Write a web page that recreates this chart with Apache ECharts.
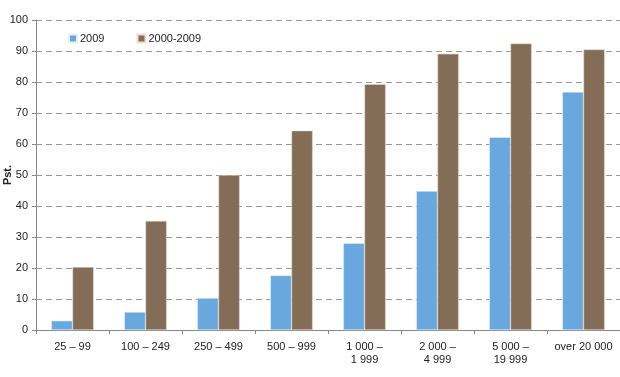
<!DOCTYPE html>
<html>
<head>
<meta charset="utf-8" />
<title></title>
<script type="text/javascript" src="https://cdn.jsdelivr.net/npm/echarts@6/dist/echarts.min.js"></script>
<style>
  html, body { margin: 0; padding: 0; background: #fff; }
  #chart { width: 620px; height: 377px; }
</style>
</head>
<body>
<div id="chart"></div>
<script type="text/javascript">
// kategorier og verdier lest av figuren
var categories = ['25 – 99', '100 – 249', '250 – 499', '500 – 999',
  '1 000 –\n1 999', '2 000 –\n4 999', '5 000 –\n19 999', 'over 20 000'];
var values2009 = [3, 5.8, 10.3, 17.6, 28, 44.8, 62.2, 76.8];
var values2000to2009 = [20.3, 35.2, 50, 64.3, 79.3, 89.1, 92.4, 90.5];
var seriesNames = ['2009', '2000-2009'];

var font = 'Liberation Sans, Arial, sans-serif';

var option = {
  animation: false,
  legend: {
    left: 63,
    top: 28,
    itemWidth: 8,
    itemHeight: 8,
    itemGap: 32,
    icon: 'rect',
    textStyle: { fontFamily: font, fontSize: 11, color: '#222', padding: [0, 0, 0, -2] },
    data: seriesNames
  },
  grid: { left: 36, right: 0, top: 20, bottom: 47, containLabel: false, outerBoundsMode: 'none' },
  xAxis: {
    type: 'category',
    data: categories,
    axisLine: { lineStyle: { color: '#888', width: 1 } },
    axisTick: { show: true, length: 4, lineStyle: { color: '#888' } },
    axisLabel: { fontFamily: font, fontSize: 11, color: '#222', margin: 10, lineHeight: 13, interval: 0 }
  },
  yAxis: {
    type: 'value',
    min: 0,
    max: 100,
    interval: 10,
    name: 'Pst.',
    nameLocation: 'middle',
    nameGap: 23,
    nameRotate: 90,
    nameMoveOverlap: false,
    nameTextStyle: { fontFamily: font, fontSize: 11, fontWeight: 'bold', color: '#222' },
    axisLine: { show: true, lineStyle: { color: '#888', width: 1 } },
    axisTick: { show: true, length: 4, lineStyle: { color: '#888' } },
    axisLabel: { fontFamily: font, fontSize: 11, color: '#222', margin: 8 },
    splitLine: { lineStyle: { color: '#999', type: [6, 4], width: 1 } }
  },
  series: [
    {
      name: seriesNames[0],
      type: 'bar',
      data: values2009,
      barGap: '0%',
      barCategoryGap: '42%',
      itemStyle: { color: '#68a8de', borderColor: '#e8f0f6', borderWidth: 0.5 }
    },
    {
      name: seriesNames[1],
      type: 'bar',
      data: values2000to2009,
      barGap: '0%',
      barCategoryGap: '42%',
      itemStyle: { color: '#846d57', borderColor: '#e8e0d8', borderWidth: 0.5 }
    }
  ]
};

var mychart = echarts.init(document.getElementById('chart'));
mychart.setOption(option);
</script>
</body>
</html>
